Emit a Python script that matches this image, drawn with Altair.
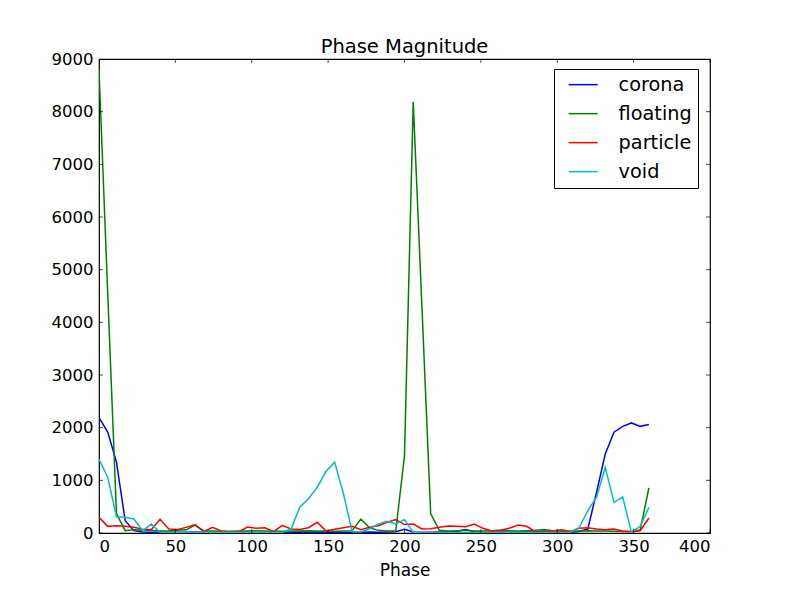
import altair as alt
import pandas as pd

PHASE = [round(i * 360 / 63, 4) for i in range(64)]

CORONA = [2190, 1915, 1345, 235, 45, 20, 15, 15, 20, 15, 15, 20, 15, 15, 10, 15,
          20, 15, 10, 15, 15, 10, 15, 20, 15, 15, 20, 15, 10, 15, 15, 20,
          15, 20, 25, 70, 20, 15, 15, 20, 25, 30, 65, 25, 15, 15, 20, 15,
          15, 20, 25, 40, 20, 15, 15, 30, 75, 770, 1500, 1915, 2025, 2090,
          2025, 2060]
FLOATING = [8800, 4550, 370, 45, 60, 50, 50, 40, 40, 50, 60, 150, 40, 40, 35, 35,
            40, 40, 45, 40, 40, 35, 40, 40, 45, 40, 40, 35, 40, 45, 265, 100,
            50, 40, 40, 1470, 8190, 4280, 365, 50, 40, 45, 50, 40, 40, 45, 50, 45,
            40, 45, 50, 65, 45, 40, 35, 40, 45, 40, 40, 35, 30, 30, 55, 855]
PARTICLE = [297, 126, 139, 126, 107, 70, 66, 259, 76, 66, 107, 158, 25, 107, 38, 20,
            20, 114, 88, 100, 25, 146, 76, 66, 100, 203, 40, 70, 100, 127, 63, 108,
            139, 203, 254, 160, 170, 76, 80, 110, 133, 127, 120, 171, 89, 38, 51, 89,
            152, 127, 25, 20, 38, 63, 30, 89, 101, 76, 63, 76, 38, 25, 44, 285]
VOID = [1400, 1058, 310, 298, 266, 45, 170, 10, 15, 15, 15, 15, 15, 15, 15, 15,
        15, 15, 15, 15, 15, 15, 75, 488, 650, 869, 1167, 1344, 750, 25, 20, 80,
        171, 221, 171, 253, 10, 10, 10, 10, 10, 10, 10, 10, 10, 10, 10, 10,
        10, 10, 10, 10, 10, 10, 10, 100, 425, 678, 1245, 582, 684, 10, 126, 487]

SERIES = ["corona", "floating", "particle", "void"]
COLORS = ["#0000ff", "#008000", "#ff0000", "#00bfbf"]
X_TICKS = list(range(0, 401, 50))
Y_TICKS = list(range(0, 9001, 1000))

rows = []
for name, vals in zip(SERIES, [CORONA, FLOATING, PARTICLE, VOID]):
    for p, v in zip(PHASE, vals):
        rows.append({"phase": p, "value": v, "series": name})
df = pd.DataFrame(rows)

W, H = 611, 474
FONT = "DejaVu Sans"

xscale = alt.Scale(domain=[0, 400], nice=False, zero=False)
yscale = alt.Scale(domain=[0, 9000], nice=False)

xaxis = alt.Axis(title="Phase", values=X_TICKS, format="d", grid=False, ticks=False,
                 domain=False, labelFontSize=16.5, labelColor="black",
                 labelFont=FONT, labelPadding=5, titleFontSize=17,
                 titleFont=FONT, titleFontWeight="normal",
                 titleColor="black", titlePadding=8)
yaxis = alt.Axis(title=None, values=Y_TICKS, format="d", grid=False, ticks=False,
                 domain=False, labelFontSize=16.5, labelColor="black",
                 labelFont=FONT, labelPadding=6)

lines = alt.Chart(df).mark_line(strokeWidth=1.5, clip=True).encode(
    x=alt.X("phase:Q", scale=xscale, axis=xaxis),
    y=alt.Y("value:Q", scale=yscale, axis=yaxis),
    color=alt.Color("series:N",
                    scale=alt.Scale(domain=SERIES, range=COLORS),
                    legend=alt.Legend(title=None, orient="none", legendX=455,
                                      legendY=10, symbolType="M-2.9,0H2.9",
                                      symbolSize=100, symbolStrokeWidth=1.5,
                                      symbolOffset=13.5,
                                      labelFontSize=19.3, labelFont=FONT,
                                      labelColor="black", labelOffset=25.8,
                                      rowPadding=9.0, padding=6,
                                      strokeColor="black", fillColor="white",
                                      cornerRadius=0)),
    detail="series:N",
)

xt = pd.DataFrame({"phase": X_TICKS})
yt = pd.DataFrame({"value": Y_TICKS})

tick = dict(size=8, thickness=1, color="black", clip=True)
xticks_bottom = alt.Chart(xt).mark_tick(**tick).encode(
    x=alt.X("phase:Q", scale=xscale, axis=xaxis), y=alt.value(H))
xticks_top = alt.Chart(xt).mark_tick(**tick).encode(
    x=alt.X("phase:Q", scale=xscale, axis=xaxis), y=alt.value(0))
yticks_left = alt.Chart(yt).mark_tick(**tick).encode(
    y=alt.Y("value:Q", scale=yscale, axis=yaxis), x=alt.value(0))
yticks_right = alt.Chart(yt).mark_tick(**tick).encode(
    y=alt.Y("value:Q", scale=yscale, axis=yaxis), x=alt.value(W))

chart = alt.layer(lines, xticks_bottom, xticks_top, yticks_left, yticks_right).properties(
    width=W, height=H,
    title=alt.Title("Phase Magnitude", fontSize=19.5, font=FONT, fontWeight="normal",
                    color="black", anchor="middle", offset=3, dy=9),
    padding={"left": 91, "top": 51, "right": 70, "bottom": 60},
    autosize="none",
    background="white",
).configure_view(stroke="black", strokeWidth=1.2)

chart.save("out.html", embed_options={"renderer": "svg", "actions": False})
